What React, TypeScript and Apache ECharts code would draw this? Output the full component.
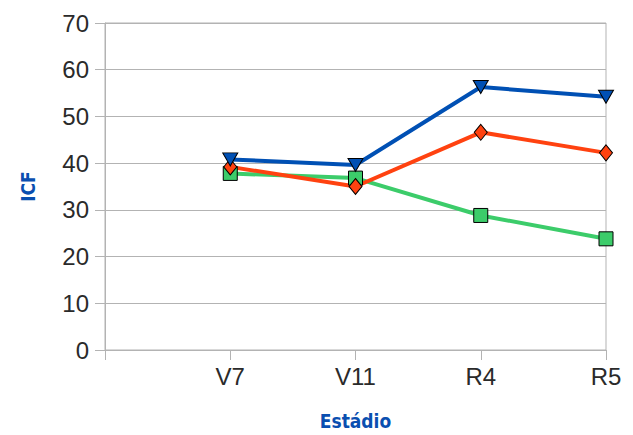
import React, { useEffect, useRef } from "react";
import * as echarts from "echarts";

const categories = ["", "V7", "V11", "R4", "R5"];
const blueValues = [null, 40.8, 39.6, 56.3, 54.2];
const orangeValues = [null, 39.2, 35.0, 46.6, 42.2];
const greenValues = [null, 37.8, 36.8, 28.8, 23.8];
const yTicks = { min: 0, max: 70, interval: 10 };

export default function App() {
  const ref = useRef<HTMLDivElement>(null);
  useEffect(() => {
    if (!ref.current) return;
    const chart = echarts.init(ref.current, undefined, { renderer: "svg" });
    const grey = "#b3b3b3";
    const font = "Liberation Sans, Arial, sans-serif";
    const mk = (name: string, data: any[], color: string, symbol: string, size: any, rotate = 0) => ({
      name,
      type: "line",
      data,
      symbol,
      symbolSize: size,
      symbolRotate: rotate,
      showSymbol: true,
      lineStyle: { color, width: 4 },
      itemStyle: { color, borderColor: "#000", borderWidth: 1 },
      connectNulls: false,
    });
    chart.setOption({
      animation: false,
      backgroundColor: "#fff",
      grid: {
        left: 105,
        right: 27,
        top: 23,
        bottom: 77,
        show: true,
        borderColor: grey,
        borderWidth: 1,
        backgroundColor: "transparent",
      },
      xAxis: {
        type: "category",
        data: categories,
        boundaryGap: false,
        name: "Estádio",
        nameLocation: "middle",
        nameGap: 61,
        nameTextStyle: { color: "#0a4fb0", fontWeight: "bold", fontSize: 19, fontFamily: "DejaVu Sans Condensed, Arial, sans-serif" },
        axisLine: { lineStyle: { color: grey, width: 1 } },
        axisTick: { show: true, length: 10, lineStyle: { color: grey }, alignWithLabel: true },
        axisLabel: { color: "#2a2a2a", fontSize: 24, fontFamily: font, margin: 14 },
        splitLine: { show: false },
      },
      yAxis: {
        type: "value",
        min: yTicks.min,
        max: yTicks.max,
        interval: yTicks.interval,
        name: "ICF",
        nameLocation: "middle",
        nameGap: 68,
        nameTextStyle: { color: "#0a4fb0", fontWeight: "bold", fontSize: 19, fontFamily: "DejaVu Sans Condensed, Arial, sans-serif" },
        axisLine: { show: true, lineStyle: { color: grey, width: 1 } },
        axisTick: { show: true, length: 10, lineStyle: { color: grey } },
        axisLabel: { color: "#2a2a2a", fontSize: 24, fontFamily: font, margin: 16 },
        splitLine: { show: true, lineStyle: { color: grey, width: 1 } },
      },
      series: [
        mk("green", greenValues, "#3ccc6a", "rect", 14),
        mk("orange", orangeValues, "#ff4210", "diamond", [13, 16]),
        mk("blue", blueValues, "#0050b4", "triangle", [15, 13], 180),
      ],
    });
    return () => chart.dispose();
  }, []);
  return <div ref={ref} style={{ position: "absolute", left: 0, top: 0, width: 633, height: 435 }} />;
}
